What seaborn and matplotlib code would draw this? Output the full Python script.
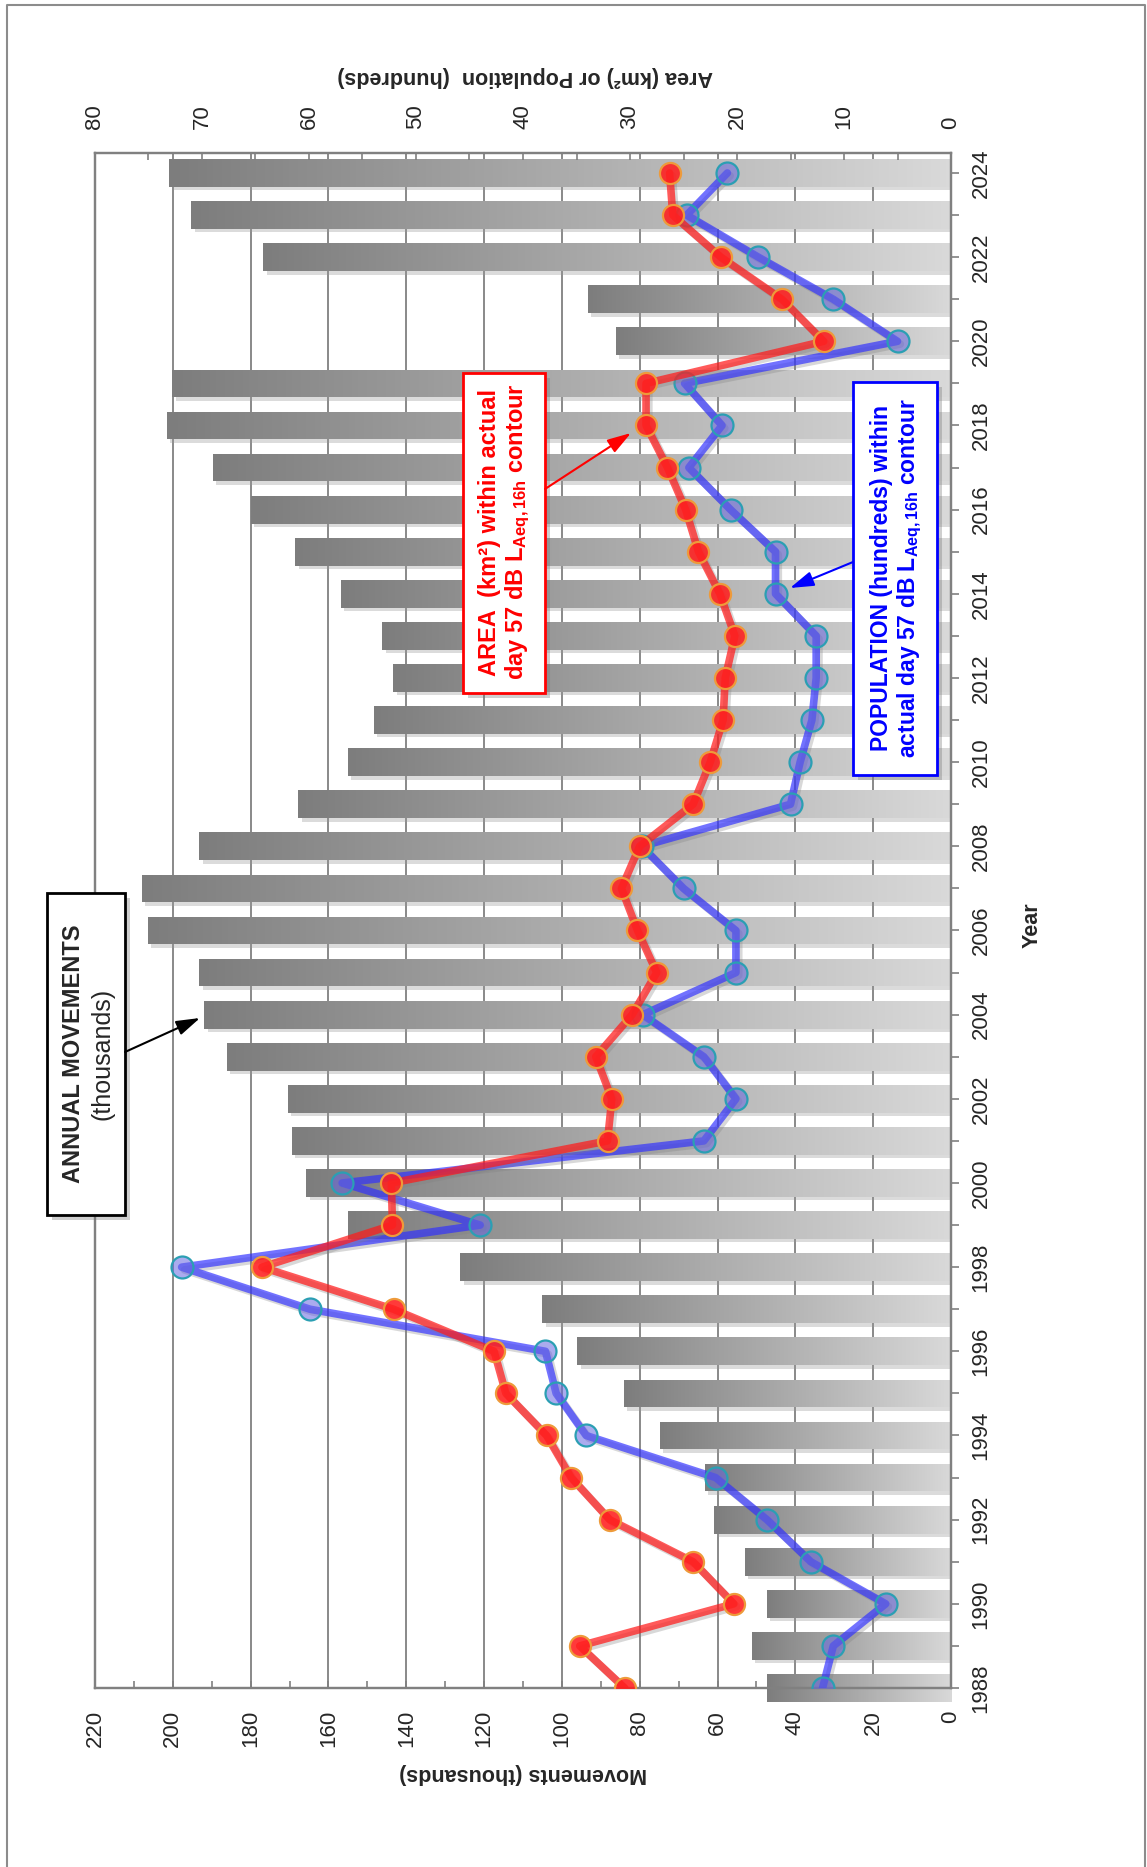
import numpy as np
import pandas as pd
import matplotlib
matplotlib.use('Agg')
import matplotlib.pyplot as plt
import matplotlib.patheffects as pe
from matplotlib.patches import Rectangle, FancyArrowPatch
from matplotlib.lines import Line2D
from matplotlib.colors import LinearSegmentedColormap
import seaborn as sns

# ---------------- data ----------------
years = list(range(1988, 2025))
movements = [47.3, 51.2, 47.3, 53.0, 61.0, 63.3, 74.9, 84.1, 96.0, 105.1,
             126.1, 155.0, 165.7, 169.4, 170.4, 186.2, 191.9, 193.2, 206.5, 208.0,
             193.2, 167.7, 155.0, 148.4, 143.3, 146.2, 156.8, 168.5, 180.0, 189.8,
             201.5, 200.2, 86.1, 93.4, 176.7, 195.2, 200.9]
area = [30.5, 34.7, 20.3, 24.1, 31.9, 35.5, 37.8, 41.6, 42.7, 52.1,
        64.4, 52.2, 52.3, 32.1, 31.7, 33.2, 29.8, 27.5, 29.3, 30.8,
        29.1, 24.1, 22.5, 21.3, 21.1, 20.2, 21.6, 23.6, 24.8, 26.5,
        28.5, 28.5, 11.9, 15.8, 21.5, 26.0, 26.3]
population = [12.0, 11.0, 6.1, 13.1, 17.2, 22.0, 34.1, 36.9, 37.9, 59.9,
              71.9, 44.0, 56.9, 23.1, 20.1, 23.1, 28.8, 20.1, 20.1, 25.0,
              28.9, 15.0, 14.1, 13.0, 12.6, 12.6, 16.4, 16.4, 20.6, 24.5,
              21.4, 24.9, 5.0, 11.0, 18.0, 24.7, 20.9]

movement_ticks = list(range(0, 221, 20))
area_ticks = list(range(0, 81, 10))
year_ticks = list(range(1988, 2025, 2))

# ---------------- style ----------------
sns.set_theme(style='white')
plt.rcParams['font.family'] = ['Liberation Sans', 'DejaVu Sans']
plt.rcParams['mathtext.fontset'] = 'custom'
plt.rcParams['mathtext.rm'] = 'Liberation Sans'
plt.rcParams['mathtext.bf'] = 'Liberation Sans:bold'
plt.rcParams['mathtext.it'] = 'Liberation Sans:italic'

W, H = 1147, 1867
fig = plt.figure(figsize=(W / 100, H / 100), dpi=100)
L, R, T, B = 95, 951, 153, 1688
ax = fig.add_axes([L / W, 1 - B / H, (R - L) / W, (B - T) / H])

df = pd.DataFrame({'year': years, 'movements': movements,
                   'area': area, 'population': population})

GRAY = '#808080'

# ---------------- bars ----------------
sns.barplot(data=df, x='movements', y='year', orient='h', native_scale=True,
            width=0.66, color='#aaaaaa', ax=ax, zorder=2)

cmap = LinearSegmentedColormap.from_list('bar', ['#7d7d7d', '#d9d9d9'])
grad = np.linspace(0, 1, 256).reshape(1, -1)
for p in list(ax.patches):
    x0, w, y0, h = p.get_x(), p.get_width(), p.get_y(), p.get_height()
    im = ax.imshow(grad, cmap=cmap, extent=(x0 + w, x0, y0, y0 + h),
                   aspect='auto', interpolation='bilinear', zorder=2.1)
    im.set_clip_path(p)
    p.set_facecolor('none')
    p.set_edgecolor('none')
    p.set_path_effects([pe.SimplePatchShadow(offset=(2.5, -2.5),
                                             shadow_rgbFace='#9a9a9a', alpha=0.35)])

# ---------------- lines ----------------
ax2 = ax.twiny()
shadow = [pe.SimpleLineShadow(offset=(2, -2), shadow_color='gray', alpha=0.3), pe.Normal()]

sns.lineplot(data=df, x='population', y='year', orient='y', sort=False,
             errorbar=None, ax=ax2, color='#3030ff', lw=5.5, alpha=0.68, zorder=3)
ax2.lines[-1].set_path_effects(shadow)
sns.scatterplot(data=df, x='population', y='year', ax=ax2, s=250, zorder=4)
c = ax2.collections[-1]
c.set_facecolor((0.40, 0.40, 0.88, 0.55))
c.set_edgecolor('#2b9fb3')
c.set_linewidth(1.6)

sns.lineplot(data=df, x='area', y='year', orient='y', sort=False,
             errorbar=None, ax=ax2, color='#ff1a1a', lw=5.5, alpha=0.72, zorder=5)
ax2.lines[-1].set_path_effects(shadow)
sns.scatterplot(data=df, x='area', y='year', ax=ax2, s=230, zorder=6)
c = ax2.collections[-1]
c.set_facecolor((1.0, 0.12, 0.12, 0.88))
c.set_edgecolor('#ee9a3a')
c.set_linewidth(1.6)

# ---------------- axes ----------------
ax.set_xlim(220, 0)
ax2.set_xlim(80, 0)
ax.set_ylim(1988, 2024.475)
ax.set_xlabel('')
ax.set_ylabel('')
ax2.set_xlabel('')
ax2.set_ylabel('')

ax.set_xticks(movement_ticks)
ax.set_xticks(list(range(10, 220, 20)), minor=True)
ax.set_xticklabels([str(v) for v in movement_ticks])
ax.tick_params(axis='x', which='both', direction='in', length=5, width=1.2,
               color=GRAY, labelsize=16, pad=16, labelrotation=90, bottom=True)

ax.yaxis.tick_right()
ax.set_yticks(year_ticks)
ax.set_yticks(list(range(1989, 2025, 2)), minor=True)
ax.set_yticklabels([str(v) for v in year_ticks])
ax.tick_params(axis='y', which='both', direction='out', length=6, width=1.2,
               color=GRAY, labelsize=16, pad=8, labelrotation=90,
               left=False, right=True)
for lbl in ax.get_yticklabels():
    lbl.set_va('center')

ax2.set_xticks(area_ticks)
ax2.set_xticks(list(range(5, 80, 10)), minor=True)
ax2.set_xticklabels([str(v) for v in area_ticks])
ax2.tick_params(axis='x', which='both', direction='in', length=5, width=1.2,
                color=GRAY, labelsize=16, pad=17, labelrotation=90, top=True)

ax.grid(axis='x', which='major', color=GRAY, lw=1.3)
ax.grid(axis='y', visible=False)
ax.set_axisbelow(True)
for a in (ax, ax2):
    for s in a.spines.values():
        s.set_color(GRAY)
        s.set_linewidth(1.6)

# ---------------- axis titles ----------------
fig.text(1032 / W, 1 - 925 / H, 'Year', rotation=90, fontsize=15.5,
         fontweight='bold', ha='center', va='center')
fig.text(523 / W, 1 - 1773 / H, 'Movements (thousands)', rotation=180,
         fontsize=15.5, fontweight='bold', ha='center', va='center')
fig.text(525 / W, 1 - 77 / H, 'Area (km²) or Population  (hundreds)', rotation=180,
         fontsize=15.5, fontweight='bold', ha='center', va='center')

# ---------------- page border ----------------
fig.add_artist(Line2D([7 / W, 7 / W, 1145 / W, 1145 / W], [0, 1 - 5 / H, 1 - 5 / H, 0],
                      transform=fig.transFigure, color='#8c8c8c', lw=1.5))


# ---------------- annotation boxes ----------------
def box(x0, y0, x1, y1, ec):
    fig.add_artist(Rectangle(((x0 + 5) / W, 1 - (y1 + 5) / H), (x1 - x0) / W, (y1 - y0) / H,
                             transform=fig.transFigure, fc='#777777', ec='none',
                             alpha=0.35, zorder=5))
    fig.add_artist(Rectangle((x0 / W, 1 - y1 / H), (x1 - x0) / W, (y1 - y0) / H,
                             transform=fig.transFigure, fc='white', ec=ec, lw=2,
                             zorder=6))


def arrow(x0, y0, x1, y1, col):
    fig.add_artist(FancyArrowPatch((x0 / W, 1 - y0 / H), (x1 / W, 1 - y1 / H),
                                   transform=fig.transFigure,
                                   arrowstyle='-|>,head_length=0.8,head_width=0.25',
                                   mutation_scale=18, color=col, lw=1.5, zorder=6,
                                   shrinkA=0, shrinkB=0))


box(47, 893, 125, 1215, 'black')
fig.text(74 / W, 1 - 1054 / H, 'ANNUAL MOVEMENTS', rotation=90, fontsize=17,
         fontweight='bold', ha='center', va='center', zorder=7)
fig.text(103 / W, 1 - 1054 / H, '(thousands)', rotation=90, fontsize=18,
         ha='center', va='center', zorder=7)
arrow(125, 1052, 200, 1018, 'black')

box(463, 373, 545, 693, 'red')
fig.text(505 / W, 1 - 532 / H,
         'AREA  (km²) within actual\nday 57 dB L$_{\\mathbf{Aeq,16h}}$ contour',
         rotation=90, fontsize=17, fontweight='bold', color='red',
         ha='center', va='center', multialignment='center', linespacing=1.15, zorder=7)
arrow(545, 489, 631, 433, 'red')

box(853, 382, 937, 775, 'blue')
fig.text(897 / W, 1 - 578 / H,
         'POPULATION (hundreds) within\nactual day 57 dB L$_{\\mathbf{Aeq,16h}}$ contour',
         rotation=90, fontsize=16.5, fontweight='bold', color='blue',
         ha='center', va='center', multialignment='center', linespacing=1.1, zorder=7)
arrow(853, 562, 790, 588, 'blue')

fig.savefig('out.png', dpi=100)
